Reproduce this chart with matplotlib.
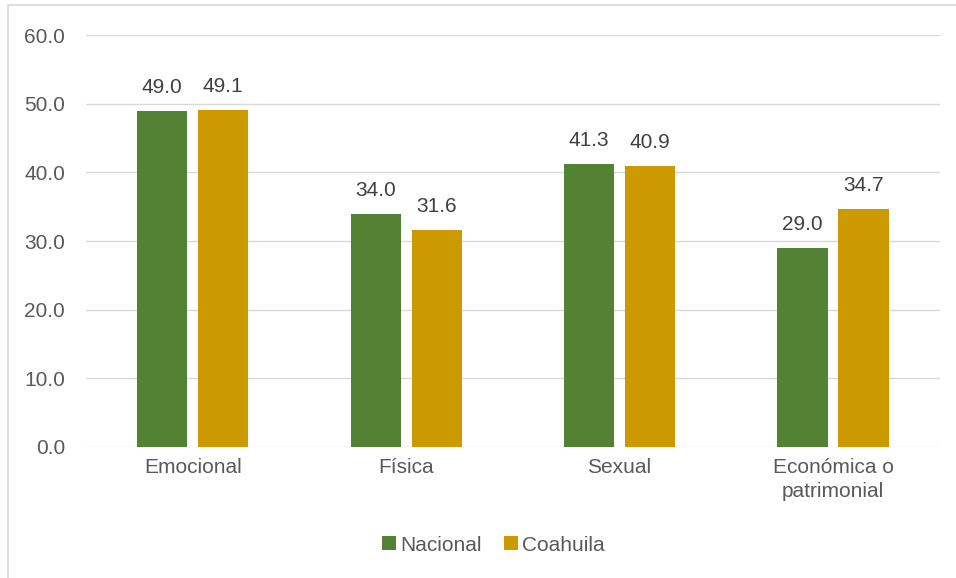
import numpy as np
import matplotlib.pyplot as plt
from matplotlib.patches import Rectangle

plt.rcParams['font.family'] = ['Liberation Sans', 'DejaVu Sans']

categorias = ['Emocional', 'Física', 'Sexual', 'Económica o\npatrimonial']
nacional = [49.0, 34.0, 41.3, 29.0]
coahuila = [49.1, 31.6, 40.9, 34.7]
series = ['Nacional', 'Coahuila']
colores = ['#548235', '#CC9900']
gris = '#595959'

fig = plt.figure(figsize=(9.56, 5.78), dpi=100)
ax = fig.add_axes([0.09, 0.227, 0.893, 0.712])

# marco exterior del grafico
fig.patches.append(Rectangle((8 / 956, -0.05), 1.1, 1 - 5 / 578 + 0.05,
                             transform=fig.transFigure, fill=False,
                             edgecolor='#d9d9d9', linewidth=1.2))

x = np.arange(len(categorias))
w = 0.235
b1 = ax.bar(x - 0.143, nacional, w, color=colores[0], label=series[0])
b2 = ax.bar(x + 0.143, coahuila, w, color=colores[1], label=series[1])

for barras in (b1, b2):
    ax.bar_label(barras, labels=[f'{v:.1f}' for v in barras.datavalues],
                 padding=10, fontsize=15, color='#404040')

ax.set_xlim(-0.5, 3.5)
ax.set_ylim(0, 60)
ax.set_yticks(np.arange(0, 61, 10))
ax.set_yticklabels([f'{v:.1f}' for v in np.arange(0, 61, 10)])
ax.set_xticks(x)
ax.set_xticklabels(categorias, linespacing=1.35)
ax.tick_params(axis='both', length=0, labelsize=15, labelcolor=gris)
ax.tick_params(axis='y', pad=15)
ax.tick_params(axis='x', pad=8)
ax.grid(axis='y', color='#d9d9d9', linewidth=1)
ax.set_axisbelow(True)
for s in ax.spines.values():
    s.set_visible(False)

fig.legend(loc='center', bbox_to_anchor=(0.516, 0.057), ncol=2, frameon=False,
           fontsize=15, handlelength=0.65, handleheight=0.65, handletextpad=0.2,
           columnspacing=1.1, labelcolor=gris)

fig.savefig('out.png', dpi=100)
